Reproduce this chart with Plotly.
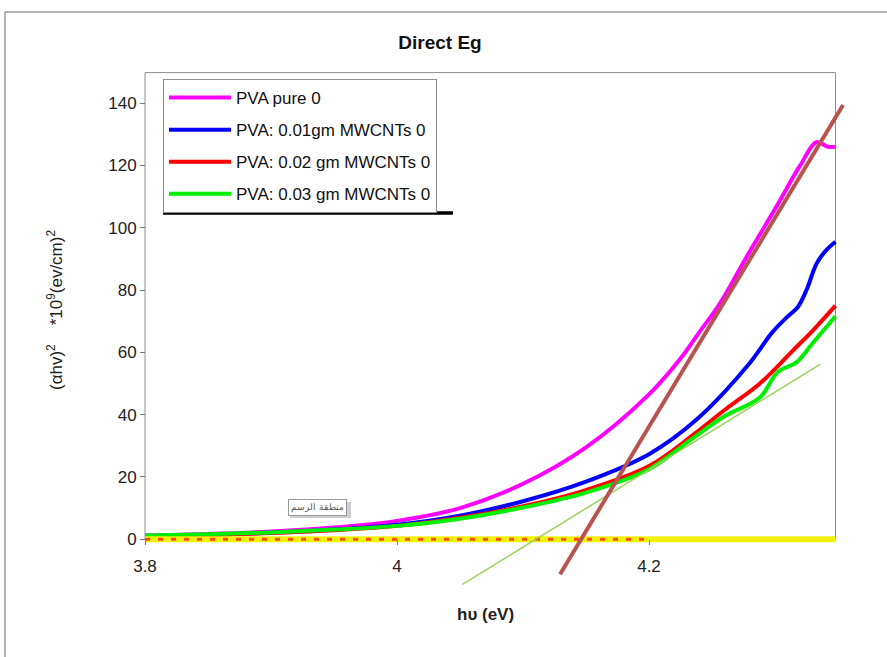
import plotly.graph_objects as go

# ---------------- data ----------------
x_pure = [3.80, 3.85, 3.90, 3.95, 4.00, 4.05, 4.10, 4.15, 4.20, 4.225, 4.24, 4.256, 4.278, 4.30, 4.32, 4.333, 4.342, 4.348]
y_pure = [1.2, 1.7, 2.5, 3.8, 5.9, 10.0, 17.8, 29.5, 46.5, 58.0, 66.5, 75.5, 91.0, 106.0, 120.0, 127.5, 126.0, 126.0]

x_01 = [3.80, 3.85, 3.90, 3.95, 4.00, 4.05, 4.10, 4.15, 4.20, 4.238, 4.278, 4.298, 4.31, 4.318, 4.325, 4.333, 4.34, 4.348]
y_01 = [1.0, 1.4, 2.1, 3.1, 4.7, 7.6, 12.2, 18.5, 27.3, 38.5, 55.6, 66.5, 71.5, 74.5, 80.0, 88.5, 92.5, 95.5]

x_02 = [3.80, 3.85, 3.90, 3.95, 4.00, 4.05, 4.10, 4.15, 4.20, 4.235, 4.26, 4.288, 4.314, 4.33, 4.348]
y_02 = [1.0, 1.3, 2.0, 2.9, 4.3, 6.9, 10.6, 15.8, 23.5, 33.5, 41.5, 50.0, 60.5, 67.0, 75.0]

x_03 = [3.80, 3.85, 3.90, 3.95, 4.00, 4.05, 4.10, 4.15, 4.20, 4.235, 4.26, 4.288, 4.302, 4.317, 4.330, 4.348]
y_03 = [1.2, 1.6, 2.2, 3.1, 4.3, 6.6, 10.2, 15.0, 22.5, 32.5, 39.5, 45.5, 53.6, 56.8, 63.0, 71.6]

# fitted (extrapolation) lines
fit_brown_x = [4.1294, 4.354]
fit_brown_y = [-11.2, 139.4]
fit_green_x = [4.052, 4.336]
fit_green_y = [-14.5, 56.2]

base_x = [3.80, 4.348]
base_y = [0, 0]
dash_x = [3.80, 4.198]
dash_y = [0, 0]

names = ["PVA pure 0", "PVA: 0.01gm MWCNTs 0", "PVA: 0.02 gm MWCNTs 0", "PVA: 0.03 gm MWCNTs 0"]
colors = ["#ff00ff", "#0000ff", "#ff0000", "#00ee00"]

x_tickvals = [3.8, 4.0, 4.2]
x_ticktext = ["3.8", "4", "4.2"]
y_tickvals = [0, 20, 40, 60, 80, 100, 120, 140]

# ---------------- layout geometry ----------------
W, H = 887, 657
ML, MR, MT, MB = 141, 36, 72, 71
PX_PER_X = 1260.0
Y_LO, Y_HI = -15, 150
plot_w = W - ML - MR
plot_h = H - MT - MB
x_lo = 3.8 - (145 - ML) / PX_PER_X
x_hi = x_lo + plot_w / PX_PER_X


def px_x(px):
    return (px - ML) / plot_w


def px_y(py):
    return (H - MB - py) / plot_h


FONT = "Liberation Sans, Arial, sans-serif"

fig = go.Figure()
series = [(x_pure, y_pure), (x_01, y_01), (x_02, y_02), (x_03, y_03)]
for i, ((xs, ys), nm, c) in enumerate(zip(series, names, colors)):
    fig.add_trace(go.Scatter(x=xs, y=ys, name=nm, mode="lines",
                             line=dict(color=c, width=4, shape="spline", smoothing=1.0),
                             legendgroup=f"g{i}"))

fig.add_trace(go.Scatter(x=base_x, y=base_y, mode="lines", showlegend=False,
                         line=dict(color="#f2f200", width=6)))
fig.add_trace(go.Scatter(x=dash_x, y=dash_y, mode="lines", showlegend=False,
                         line=dict(color="#ff4a10", width=3, dash="5px,8px")))
fig.add_trace(go.Scatter(x=fit_green_x, y=fit_green_y, mode="lines", showlegend=False,
                         line=dict(color="#9ad25a", width=1.5)))
fig.add_trace(go.Scatter(x=fit_brown_x, y=fit_brown_y, mode="lines", showlegend=False,
                         line=dict(color="#b85450", width=4)))

shapes = [
    # plot frame
    dict(type="rect", xref="x", yref="y", x0=3.8, x1=4.348, y0=0, y1=149.8,
         line=dict(color="#8c8c8c", width=1), layer="below"),
    # outer chart border
    dict(type="line", xref="paper", yref="paper", x0=px_x(5), x1=px_x(887), y0=px_y(12), y1=px_y(12),
         line=dict(color="#9a9a9a", width=1.5)),
    dict(type="line", xref="paper", yref="paper", x0=px_x(5), x1=px_x(5), y0=px_y(12), y1=px_y(657),
         line=dict(color="#9a9a9a", width=1.5)),
    # thick line under legend
    dict(type="line", xref="paper", yref="paper", x0=px_x(163), x1=px_x(453), y0=px_y(213), y1=px_y(213),
         line=dict(color="#000000", width=3.5)),
    # shadow of the small plot-area label
    dict(type="rect", xref="paper", yref="paper", x0=px_x(290), x1=px_x(351), y0=px_y(502), y1=px_y(518),
         line=dict(width=0), fillcolor="#cfcfcf"),
]

annotations = [
    dict(text="<b>hυ (eV)</b>", xref="paper", yref="paper", x=px_x(485), y=px_y(614),
         xanchor="center", yanchor="middle",
         showarrow=False, font=dict(family=FONT, size=17, color="#222")),
    dict(text="(αhv)<sup>2</sup>\u00a0\u00a0\u00a0 *10<sup>9</sup>(ev/cm)<sup>2</sup>", xref="paper", yref="paper",
         x=px_x(55), y=px_y(310), xanchor="center", yanchor="middle", textangle=-90, showarrow=False,
         font=dict(family=FONT, size=17, color="#222")),
    dict(text="منطقة الرسم", xref="paper", yref="paper", x=px_x(317), y=px_y(507),
         xanchor="center", yanchor="middle",
         showarrow=False, font=dict(family=FONT, size=9, color="#555"),
         bgcolor="white", bordercolor="#999", borderwidth=1, borderpad=2),
]

fig.update_layout(
    width=W, height=H,
    margin=dict(l=ML, r=MR, t=MT, b=MB),
    paper_bgcolor="white", plot_bgcolor="white",
    font=dict(family=FONT, color="#222"),
    title=dict(text="<b>Direct Eg</b>", x=440 / W, xref="container", xanchor="center",
               y=1 - 42 / H, yref="container", yanchor="middle",
               font=dict(family=FONT, size=19, color="#111")),
    xaxis=dict(range=[x_lo, x_hi], anchor="free", position=(0 - Y_LO) / (Y_HI - Y_LO),
               tickvals=x_tickvals, ticktext=x_ticktext, ticks="outside", ticklen=5,
               tickcolor="#777", showgrid=False, zeroline=False, showline=False,
               ticklabelstandoff=6,
               tickfont=dict(family=FONT, size=17, color="#222")),
    yaxis=dict(range=[Y_LO, Y_HI], anchor="free", position=px_x(145),
               tickvals=y_tickvals, ticks="outside", ticklen=5, tickcolor="#777",
               showgrid=False, zeroline=False, showline=False,
               tickfont=dict(family=FONT, size=17, color="#222")),
    legend=dict(x=px_x(163), y=px_y(79), xanchor="left", yanchor="top",
                bgcolor="white", bordercolor="#8c8c8c", borderwidth=1,
                font=dict(family=FONT, size=17, color="#111"),
                traceorder="grouped", tracegroupgap=7, itemwidth=62),
    shapes=shapes,
    annotations=annotations,
)

fig.write_html("out.html")
